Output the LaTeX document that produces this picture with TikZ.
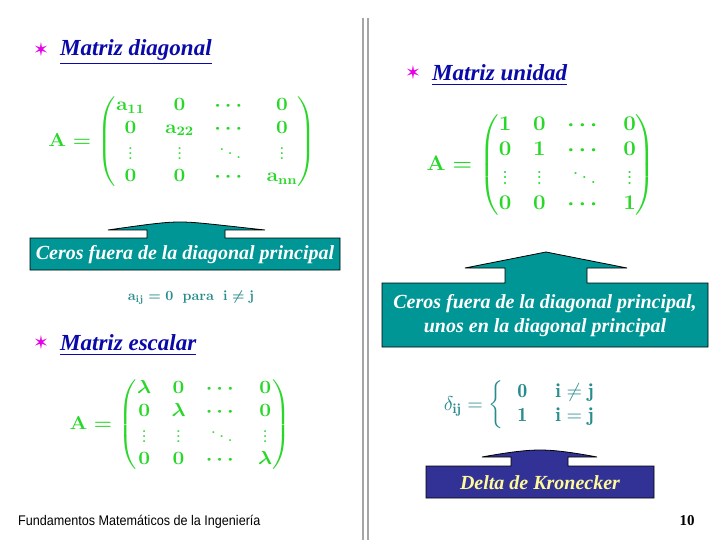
\documentclass[border=0pt]{standalone}
\usepackage{tikz}
\usepackage{graphicx}
\usepackage{amsmath}
\usepackage{fontspec}
\newfontfamily\tnr{Liberation Serif}
\newfontfamily\arial{Liberation Sans}
\newfontfamily\dvs{DejaVu Sans}
\definecolor{mgreen}{RGB}{40,215,40}
\definecolor{mteal}{RGB}{0,150,150}
\definecolor{dteal}{RGB}{40,140,140}
\definecolor{tblue}{RGB}{10,10,170}
\definecolor{kblue}{RGB}{50,50,150}
\definecolor{starc}{RGB}{230,0,230}
\tikzset{
 title/.style={anchor=west,font=\tnr\bfseries\itshape\fontsize{23}{26}\selectfont,text=tblue,inner sep=0pt},
 bullet/.style={text=starc,font=\dvs\fontsize{19}{19}\selectfont,inner sep=0pt},
 matnode/.style={inner sep=0pt},
 boxtext/.style={text=white,font=\tnr\bfseries\itshape\fontsize{20}{24}\selectfont,align=center,inner sep=0pt},
 callout/.style={fill=#1,draw=black,line width=0.8pt}
}
\newcommand{\uline}[1]{\underline{#1}}
\newsavebox{\bDiag}\newsavebox{\bUnit}\newsavebox{\bEsc}\newsavebox{\bKron}\newsavebox{\bAij}
\begin{document}
\setlength{\arraycolsep}{7pt}%
\sbox{\bDiag}{\scalebox{1.45}[1.3]{\color{mgreen}\fontsize{14.4}{17}\selectfont\boldmath$\mathbf{A}=\begin{pmatrix}\mathbf{a_{11}}&\mathbf{0}&\cdots&\mathbf{0}\\\mathbf{0}&\mathbf{a_{22}}&\cdots&\mathbf{0}\\\vdots&\vdots&\ddots&\vdots\\\mathbf{0}&\mathbf{0}&\cdots&\mathbf{a_{nn}}\end{pmatrix}$}}%
\sbox{\bUnit}{\scalebox{1.55}[1.45]{\color{mgreen}\fontsize{14.4}{17}\selectfont\boldmath$\mathbf{A}=\begin{pmatrix}\mathbf{1}&\mathbf{0}&\cdots&\mathbf{0}\\\mathbf{0}&\mathbf{1}&\cdots&\mathbf{0}\\\vdots&\vdots&\ddots&\vdots\\\mathbf{0}&\mathbf{0}&\cdots&\mathbf{1}\end{pmatrix}$}}%
\sbox{\bEsc}{\scalebox{1.45}[1.3]{\color{mgreen}\fontsize{14.4}{17}\selectfont\boldmath$\mathbf{A}=\begin{pmatrix}\lambda&\mathbf{0}&\cdots&\mathbf{0}\\\mathbf{0}&\lambda&\cdots&\mathbf{0}\\\vdots&\vdots&\ddots&\vdots\\\mathbf{0}&\mathbf{0}&\cdots&\lambda\end{pmatrix}$}}%
\sbox{\bKron}{\scalebox{2}{\color{dteal}$\delta_{\mathbf{ij}}=\left\{\begin{array}{ll}\mathbf{0}&\mathbf{i\neq j}\\\mathbf{1}&\mathbf{i=j}\end{array}\right.$}}%
\sbox{\bAij}{\scalebox{1.4}{\color{dteal}\boldmath$\mathbf{a_{ij}=0\ \ para\ \ i\neq j}$}}%
\begin{tikzpicture}[x=1pt,y=-1pt]
\useasboundingbox[fill=white] (0,0) rectangle (720,540);
\draw[gray!70,line width=1.5pt] (363,18) -- (363,540);
\draw[gray!70,line width=1.5pt] (368,18) -- (368,540);
\node[bullet] (b1) at (41,50) {✶};
\node[title] (t1) at (60,52) {\uline{Matriz diagonal}};
\node[bullet] (b2) at (413,73) {✶};
\node[title] (t2) at (432,75) {\uline{Matriz unidad}};
\node[bullet] (b3) at (41,343) {✶};
\node[title] (t3) at (60,345) {\uline{Matriz escalar}};
\node[matnode] (m1) at (182,142) {\usebox{\bDiag}};
\node[matnode] (m2) at (541,165) {\usebox{\bUnit}};
\node[matnode] (m3) at (180,425) {\usebox{\bEsc}};
\node[matnode] (f1) at (191,298) {\usebox{\bAij}};
\node[matnode] (f2) at (527,405) {\usebox{\bKron}};
\draw[callout=mteal] (30,238) -- (147,238) -- (147,230) -- (108,230) .. controls (150,224) and (165,222) .. (180,222) .. controls (195,222) and (210,224) .. (265,230) -- (225,230) -- (225,238) -- (340,238) -- (340,270) -- (30,270) -- cycle;
\node[boxtext] (c1) at (185,255) {Ceros fuera de la diagonal principal};
\draw[callout=mteal] (382,283) -- (505,283) -- (505,268) -- (465,268) -- (546,252) -- (627,268) -- (587,268) -- (587,283) -- (708,283) -- (708,347) -- (382,347) -- cycle;
\node[boxtext] (c2) at (545,316) {Ceros fuera de la diagonal principal,\\unos en la diagonal principal};
\draw[callout=kblue] (426,466) -- (511,466) -- (511,457) -- (482,457) .. controls (515,451) and (530,450) .. (540,450) .. controls (550,450) and (565,451) .. (597,457) -- (568,457) -- (568,466) -- (654,466) -- (654,498) -- (426,498) -- cycle;
\node[boxtext,text=yellow!40] (c3) at (540,483) {Delta de Kronecker};
\node[anchor=west,inner sep=0pt,font=\arial\fontsize{14}{16}\selectfont,xscale=0.9] (ft) at (18,522) {Fundamentos Matemáticos de la Ingeniería};
\node[inner sep=0pt,font=\tnr\bfseries\fontsize{15}{17}\selectfont] (pg) at (687,521) {10};
\end{tikzpicture}%
\end{document}
